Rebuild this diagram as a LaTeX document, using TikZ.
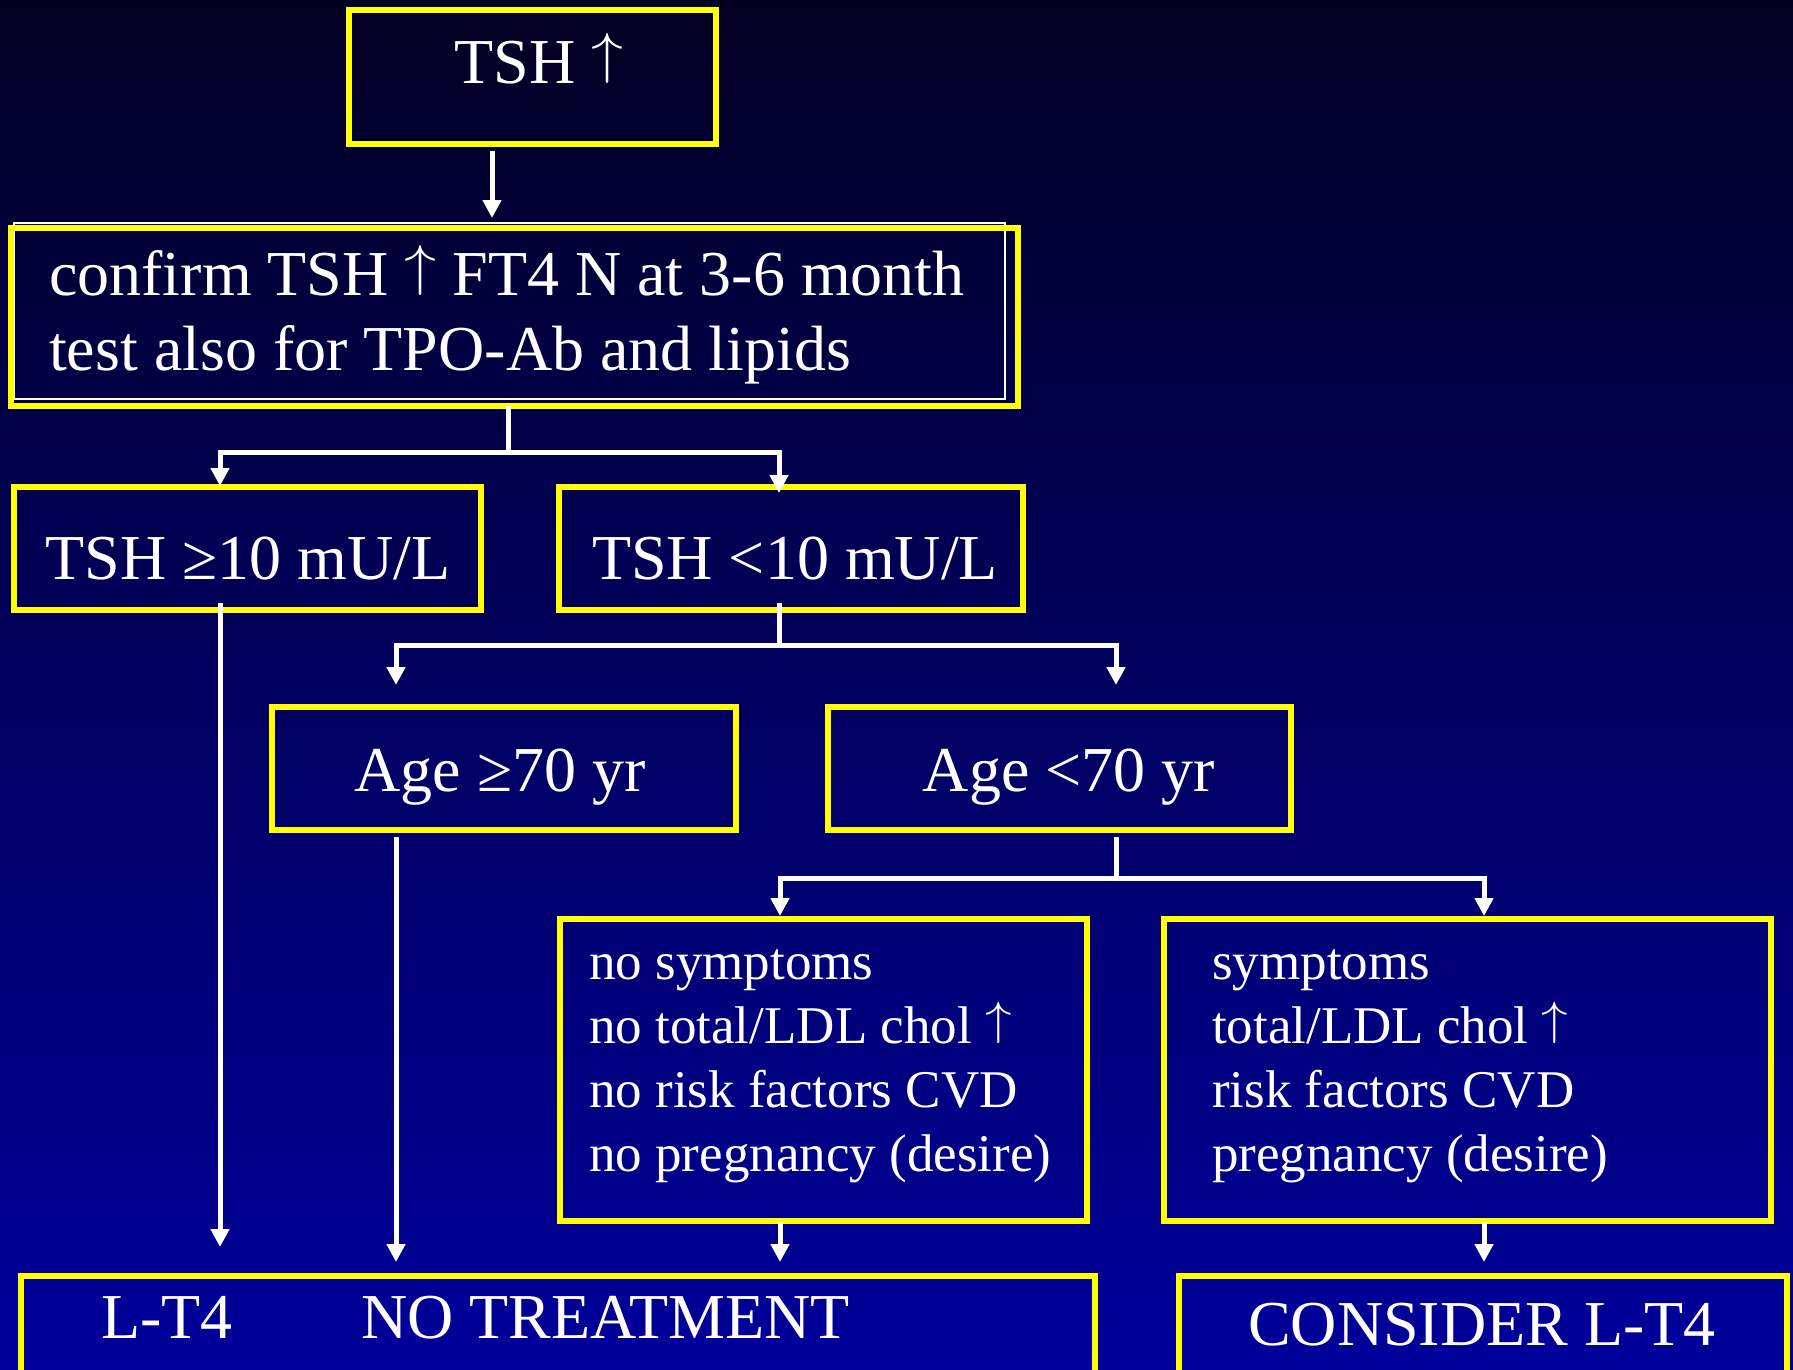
\RequirePackage{fix-cm}
\documentclass[tikz,border=0pt]{standalone}
\usepackage{fontspec}
\setmainfont{Liberation Serif}
\usetikzlibrary{arrows.meta}

\definecolor{slidetop}{RGB}{2,0,34}
\definecolor{slidebottom}{RGB}{0,0,155}
\definecolor{boxyellow}{RGB}{255,255,0}

\newcommand\boxfont{\fontsize{64}{75}\selectfont}
\newcommand\listfont{\fontsize{53}{64}\selectfont}
\newcommand\tallup{\raisebox{0.17em}{\scalebox{1}[0.88]{$\uparrow$}}}

\begin{document}
\begin{tikzpicture}[x=1pt, y=-1pt,
    ybox/.style={draw=boxyellow, line width=6pt, rectangle, inner sep=0pt, outer sep=0pt},
    txt/.style={text=white, inner sep=0pt, font=\boxfont},
    listtxt/.style={txt, font=\listfont},
    wire/.style={draw=white, line width=5pt},
    arr/.style={wire, -{Triangle[length=18pt,width=18pt]}}]

    % Slide background
    \useasboundingbox (0,0) rectangle (1793,1369);
    \clip (0,0) rectangle (1793,1369);
    \shade[top color=slidetop, bottom color=slidebottom] (0,0) rectangle (1793,1369);

    % Boxes
    \node[ybox, minimum width=367pt, minimum height=134pt] (tsh) at (532.5,77) {};
    \node[draw=white, line width=2pt, inner sep=0pt, minimum width=991pt, minimum height=176pt] (rim) at (509.5,311) {};
    \node[ybox, minimum width=1007pt, minimum height=178pt] (confirm) at (514.5,317) {};
    \node[ybox, minimum width=467pt, minimum height=123pt] (hi) at (247,548.5) {};
    \node[ybox, minimum width=464pt, minimum height=123pt] (lo) at (791,548.5) {};
    \node[ybox, minimum width=464pt, minimum height=123pt] (old) at (504,768.5) {};
    \node[ybox, minimum width=463pt, minimum height=123pt] (young) at (1059.5,768.5) {};
    \node[ybox, minimum width=527pt, minimum height=302pt] (nosym) at (823.5,1070) {};
    \node[ybox, minimum width=607pt, minimum height=302pt] (sym) at (1467.5,1070) {};
    \node[ybox, minimum width=1074pt, minimum height=128pt] (notreat) at (558,1340) {};
    \node[ybox, minimum width=608pt, minimum height=128pt] (consider) at (1483,1340) {};

    % Texts
    \node[txt, anchor=base] (tshtxt) at (539,83) {TSH \tallup};
    \node[txt, anchor=base west] (confirmtxta) at (49,295) {confirm TSH \tallup\ FT4 N at 3-6 month};
    \node[txt, anchor=base west] (confirmtxtb) at (49,370) {test also for TPO-Ab and lipids};
    \node[txt, anchor=base] (hitxt) at (248,579) {TSH ≥10 mU/L};
    \node[txt, anchor=base] (lotxt) at (795,579) {TSH <10 mU/L};
    \node[txt, anchor=base] (oldtxt) at (500,791) {Age ≥70 yr};
    \node[txt, anchor=base] (youngtxt) at (1069,791) {Age <70 yr};
    \foreach \entry [count=\i from 0] in {no symptoms, no total/LDL chol \tallup, no risk factors CVD, no pregnancy (desire)}
        \node[listtxt, anchor=base west] (nosymtxt\i) at (589,{979+64*\i}) {\entry};
    \foreach \entry [count=\i from 0] in {symptoms, total/LDL chol \tallup, risk factors CVD, pregnancy (desire)}
        \node[listtxt, anchor=base west] (symtxt\i) at (1212,{979+64*\i}) {\entry};
    \node[txt, anchor=base west] (lt4txt) at (101,1338) {L-T4};
    \node[txt, anchor=base west] (notreattxt) at (361,1338) {NO TREATMENT};
    \node[txt, anchor=base] (considertxt) at (1482,1345) {CONSIDER L-T4};

    % Forks
    \coordinate (fork1) at (508,452);
    \coordinate (fork2) at (779,645);
    \coordinate (fork3) at (1116,878);

    % Connectors
    \draw[arr, shorten <=7pt, shorten >=10pt] ([xshift=-40.5pt]tsh.south) -- ([xshift=-40.5pt]tsh.south |- confirm.north);

    \draw[wire] (confirm.south -| fork1) -- (fork1);
    \draw[arr, shorten >=1pt] (fork1) -| ([xshift=-27pt]hi.north);
    \draw[arr, shorten >=-6pt] (fork1) -| ([xshift=-12pt]lo.north);

    \draw[wire, shorten <=-7pt] (lo.south -| fork2) -- (fork2);
    \draw[arr, shorten >=22pt] (fork2) -| ([xshift=-108pt]old.north);
    \draw[arr, shorten >=22pt] (fork2) -| ([xshift=56.5pt]young.north);

    \draw[arr, shorten <=-7pt, shorten >=29pt] ([xshift=-27pt]hi.south) -- ([xshift=-27pt]hi.south |- notreat.north);
    \draw[arr, shorten <=7pt, shorten >=14pt] ([xshift=-108pt]old.south) -- ([xshift=-108pt]old.south |- notreat.north);

    \draw[wire, shorten <=7pt] (young.south -| fork3) -- (fork3);
    \draw[arr, shorten >=3pt] (fork3) -| ([xshift=-43.5pt]nosym.north);
    \draw[arr, shorten >=3pt] (fork3) -| ([xshift=16.5pt]sym.north);

    \draw[arr, shorten <=1pt, shorten >=14pt] ([xshift=-43.5pt]nosym.south) -- ([xshift=-43.5pt]nosym.south |- notreat.north);
    \draw[arr, shorten <=1pt, shorten >=14pt] ([xshift=16.5pt]sym.south) -- ([xshift=16.5pt]sym.south |- consider.north);
\end{tikzpicture}
\end{document}
